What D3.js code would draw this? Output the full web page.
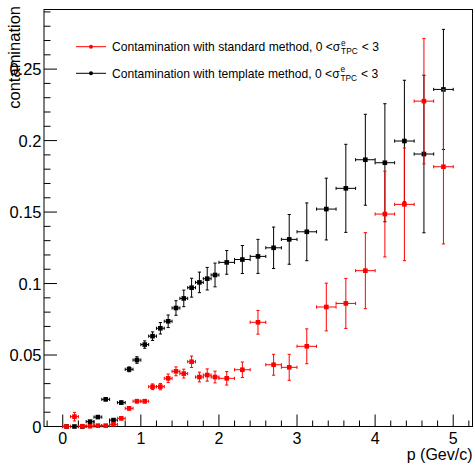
<!DOCTYPE html>
<html>
<head>
<meta charset="utf-8">
<script src="https://cdn.jsdelivr.net/npm/d3@7"></script>
<style>
  html, body { margin: 0; padding: 0; background: #fff; }
  svg { display: block; font-family: "Liberation Sans", Arial, Helvetica, sans-serif; }
</style>
</head>
<body>
<svg id="chart" width="475" height="470"></svg>
<script>
// Momentum bin centres and half-widths (GeV/c)
const pCenters = [0.05, 0.15, 0.25, 0.35, 0.45, 0.55, 0.65, 0.75, 0.85, 0.95,
                  1.05, 1.15, 1.25, 1.35, 1.45, 1.55, 1.65, 1.75, 1.85, 1.95,
                  2.1, 2.3, 2.5, 2.7, 2.9,
                  3.125, 3.375, 3.625, 3.875, 4.125, 4.375, 4.625, 4.875];
const pHalfWidths = [0.05, 0.05, 0.05, 0.05, 0.05, 0.05, 0.05, 0.05, 0.05, 0.05,
                     0.05, 0.05, 0.05, 0.05, 0.05, 0.05, 0.05, 0.05, 0.05, 0.05,
                     0.1, 0.1, 0.1, 0.1, 0.1,
                     0.125, 0.125, 0.125, 0.125, 0.125, 0.125, 0.125, 0.125];

// Contamination, standard method
const standardValues = [0, 0.0069, 0.0002, 0.0002, 0.0006, 0.0006, 0.0015, 0.0057, 0.0127, 0.0177,
                        0.0177, 0.0278, 0.0279, 0.0337, 0.0386, 0.0370, 0.0453, 0.0346, 0.0360, 0.0346,
                        0.0337, 0.0397, 0.0729, 0.0432, 0.0414,
                        0.0561, 0.0836, 0.0861, 0.1090, 0.1486, 0.1554, 0.2276, 0.1817];
const standardErrors = [0, 0.003, 0.0003, 0.0003, 0.0003, 0.0003, 0.0006, 0.001, 0.0012, 0.0012,
                        0.0012, 0.002, 0.0022, 0.003, 0.0031, 0.0031, 0.004, 0.0034, 0.0043, 0.0041,
                        0.0047, 0.0054, 0.0083, 0.0073, 0.0091,
                        0.0122, 0.0167, 0.0175, 0.0266, 0.030, 0.0394, 0.0439, 0.054];

// Contamination, template method
const templateValues = [0, 0, 0, 0.0034, 0.0066, 0.019, 0.0045, 0.0167, 0.040, 0.0465,
                        0.0573, 0.0632, 0.0687, 0.0736, 0.0829, 0.0896, 0.0971, 0.1008, 0.1034, 0.1060,
                        0.1148, 0.1168, 0.1190, 0.1250, 0.1309,
                        0.1362, 0.1521, 0.1666, 0.1866, 0.1845, 0.1997, 0.1906, 0.2358];
const templateErrors = [0, 0, 0, 0.0005, 0.0007, 0.001, 0.0008, 0.0012, 0.0017, 0.0023,
                        0.0026, 0.003, 0.004, 0.0044, 0.0051, 0.0058, 0.0066, 0.0072, 0.0079, 0.0083,
                        0.0083, 0.0098, 0.0119, 0.0145, 0.0174,
                        0.0202, 0.0216, 0.0308, 0.0318, 0.0413, 0.0425, 0.0551, 0.042];

const xTickValues = [0, 1, 2, 3, 4, 5];
const yTickValues = [0, 0.05, 0.1, 0.15, 0.2, 0.25];
const xTitle = "p (Gev/c)";
const yTitle = "contamination";

const frame = { left: 44, right: 472.5, top: 9.5, bottom: 426.5 };

const svg = d3.select("#chart");

const x = d3.scaleLinear().domain([-0.24, 5.247]).range([frame.left, frame.right]);
const y = d3.scaleLinear().domain([0, 0.2917]).range([frame.bottom, frame.top]);

// Frame
svg.append("rect")
  .attr("x", frame.left).attr("y", frame.top)
  .attr("width", frame.right - frame.left).attr("height", frame.bottom - frame.top)
  .attr("fill", "none").attr("stroke", "#000").attr("stroke-width", 1);

// Minor ticks
const xMinor = d3.range(-0.2, 5.25, 0.2).map(v => +v.toFixed(2)).filter(v => !xTickValues.some(t => Math.abs(t - v) < 1e-6));
const yMinor = d3.range(0, 0.2917, 0.01).map(v => +v.toFixed(3)).filter(v => !yTickValues.some(t => Math.abs(t - v) < 1e-6));

const axes = svg.append("g").attr("stroke", "#000").attr("stroke-width", 1);
xMinor.forEach(v => axes.append("line").attr("x1", x(v)).attr("x2", x(v)).attr("y1", frame.bottom).attr("y2", frame.bottom - 6));
xTickValues.forEach(v => axes.append("line").attr("x1", x(v)).attr("x2", x(v)).attr("y1", frame.bottom).attr("y2", frame.bottom - 12));
yMinor.forEach(v => axes.append("line").attr("x1", frame.left).attr("x2", frame.left + 6.5).attr("y1", y(v)).attr("y2", y(v)));
yTickValues.forEach(v => axes.append("line").attr("x1", frame.left).attr("x2", frame.left + 13).attr("y1", y(v)).attr("y2", y(v)));

// Tick labels
const fmtY = d => d === 0 ? "0" : String(+d.toFixed(2));
svg.append("g").selectAll("text").data(xTickValues).join("text")
  .attr("x", d => x(d)).attr("y", 444)
  .attr("text-anchor", "middle").attr("font-size", 16).attr("fill", "#000")
  .text(d => d);
svg.append("g").selectAll("text").data(yTickValues).join("text")
  .attr("x", 41.5).attr("y", d => y(d) + 6)
  .attr("text-anchor", "end").attr("font-size", 16.5).attr("fill", "#000")
  .text(fmtY);

// Axis titles
svg.append("text")
  .attr("x", frame.right).attr("y", 460)
  .attr("text-anchor", "end").attr("font-size", 16).attr("fill", "#000")
  .text(xTitle);
svg.append("text")
  .attr("transform", "translate(20,6) rotate(-90)")
  .attr("text-anchor", "end").attr("font-size", 16.5).attr("fill", "#000")
  .text(yTitle);

// Series with error bars
function drawSeries(values, errors, color) {
  const g = svg.append("g").attr("stroke", color).attr("fill", color);
  const cap = 1.6;
  pCenters.forEach((p, i) => {
    const v = values[i], e = errors[i], w = pHalfWidths[i];
    const cx = x(p), cy = y(v);
    const xl = x(p - w), xr = x(p + w);
    g.append("line").attr("x1", xl).attr("x2", xr).attr("y1", cy).attr("y2", cy);
    g.append("line").attr("x1", xl).attr("x2", xl).attr("y1", cy - cap).attr("y2", cy + cap);
    g.append("line").attr("x1", xr).attr("x2", xr).attr("y1", cy - cap).attr("y2", cy + cap);
    if (e > 0) {
      const yt = y(v + e), yb = y(Math.max(0, v - e));
      g.append("line").attr("x1", cx).attr("x2", cx).attr("y1", yt).attr("y2", yb);
      g.append("line").attr("x1", cx - cap).attr("x2", cx + cap).attr("y1", yt).attr("y2", yt);
      if (v - e > 0) g.append("line").attr("x1", cx - cap).attr("x2", cx + cap).attr("y1", yb).attr("y2", yb);
    }
    g.append("rect").attr("x", cx - 2.3).attr("y", cy - 2.3).attr("width", 4.6).attr("height", 4.6).attr("stroke", "none");
  });
}
drawSeries(templateValues, templateErrors, "#000");
drawSeries(standardValues, standardErrors, "#ff0000");

// Legend
const legendRows = [
  { label: "Contamination with standard method, 0 <σ", color: "#ff0000", y: 46.7 },
  { label: "Contamination with template method, 0 <σ", color: "#000", y: 73.3 }
];
legendRows.forEach(row => {
  const g = svg.append("g");
  g.append("line").attr("x1", 76).attr("x2", 106).attr("y1", row.y).attr("y2", row.y)
    .attr("stroke", row.color).attr("stroke-width", 1);
  g.append("circle").attr("cx", 91).attr("cy", row.y).attr("r", 2).attr("fill", row.color);
  const base = row.y + 4.3;
  const t = g.append("text").attr("x", 112).attr("y", base).attr("font-size", 12.1).attr("fill", "#000")
    .text(row.label);
  const xs = 112 + t.node().getComputedTextLength() + 0.8;
  g.append("text").attr("x", xs).attr("y", base - 5.5).attr("font-size", 8.3).attr("fill", "#000").text("e");
  const sub = g.append("text").attr("x", xs).attr("y", base + 3).attr("font-size", 8.3).attr("fill", "#000").text("TPC");
  const xe = xs + sub.node().getComputedTextLength() + 4;
  g.append("text").attr("x", xe).attr("y", base).attr("font-size", 12.1).attr("fill", "#000").text("< 3");
});
</script>
</body>
</html>
